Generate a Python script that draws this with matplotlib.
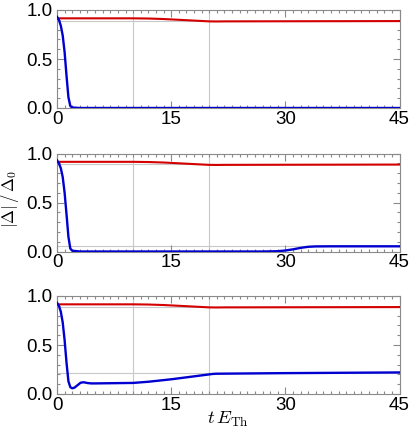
import matplotlib
matplotlib.use('Agg')
import matplotlib.pyplot as plt
from matplotlib.ticker import MultipleLocator

plt.rcParams['font.family'] = ['Liberation Sans', 'DejaVu Sans']
plt.rcParams['mathtext.fontset'] = 'cm'

# red curve (same in all three panels)
t_red = [0, 10, 12, 14, 16, 18, 20, 21, 22, 45]
red_vals = [0.915, 0.915, 0.913, 0.908, 0.900, 0.892, 0.884, 0.883, 0.884, 0.887]

# blue curves, one per panel
t_blue1 = [0, 0.25, 0.5, 0.75, 1.0, 1.25, 1.5, 1.75, 2.0, 3, 45]
blue1 = [0.93, 0.90, 0.84, 0.74, 0.57, 0.33, 0.11, 0.02, 0.005, 0.0, 0.0]

t_blue2 = [0, 0.25, 0.5, 0.75, 1.0, 1.25, 1.5, 1.75, 2.0, 3, 27, 29, 30, 31,
           32, 33, 34, 36, 45]
blue2 = [0.93, 0.90, 0.85, 0.76, 0.60, 0.38, 0.15, 0.03, 0.008, 0.0, 0.0,
         0.003, 0.010, 0.022, 0.037, 0.048, 0.052, 0.053, 0.053]

t_blue3 = [0, 0.25, 0.5, 0.75, 1.0, 1.25, 1.5, 1.75, 2.0, 2.3, 2.7, 3.1, 3.5,
           4.0, 4.5, 5, 7, 10, 12, 15, 18, 20, 20.5, 21, 30, 45]
blue3 = [0.93, 0.90, 0.84, 0.73, 0.55, 0.32, 0.13, 0.07, 0.058, 0.065, 0.09,
         0.115, 0.12, 0.112, 0.108, 0.108, 0.11, 0.113, 0.125, 0.15, 0.18,
         0.20, 0.205, 0.207, 0.213, 0.22]

# grid lines (vertical shared, horizontal per panel)
grid_x = [10, 20]
grid_y = [[0.89], [0.055, 0.89], [0.21, 0.89]]

blues = [(t_blue1, blue1), (t_blue2, blue2), (t_blue3, blue3)]
red_c = '#d40000'
blue_c = '#0000d0'
frame_c = '#8a8a8a'

fig = plt.figure(figsize=(4.11, 4.42), dpi=100)
left, width = 57 / 411, 342.5 / 411
tops = [10, 153.5, 296]
heights = 98

axes = []
for i in range(3):
    bottom = 1 - (tops[i] + heights) / 442
    ax = fig.add_axes([left, bottom, width, heights / 442])
    axes.append(ax)
    for gx in grid_x:
        ax.axvline(gx, color='#c8c8c8', lw=0.8, zorder=1)
    for gy in grid_y[i]:
        ax.axhline(gy, color='#c8c8c8', lw=0.8, zorder=1)
    ax.plot(t_red, red_vals, color=red_c, lw=1.5, zorder=3)
    tb, vb = blues[i]
    ax.plot(tb, vb, color=blue_c, lw=1.7, zorder=4)
    ax.set_xlim(0, 45)
    ax.set_ylim(0, 1)
    ax.xaxis.set_major_locator(MultipleLocator(15))
    ax.xaxis.set_minor_locator(MultipleLocator(1))
    ax.yaxis.set_minor_locator(MultipleLocator(0.1))
    ax.set_yticks([0, 0.5, 1.0])
    ax.set_yticklabels(['0.0', '0.5', '1.0'])
    ax.tick_params(which='both', direction='in', top=True, right=True,
                   color=frame_c, width=0.8, labelsize=13.5)
    ax.tick_params(which='major', length=5)
    ax.tick_params(which='minor', length=2.5)
    ax.tick_params(axis='x', pad=2)
    ax.tick_params(axis='y', pad=3)
    for s in ax.spines.values():
        s.set_color(frame_c)
        s.set_linewidth(0.8)

# y label placed in figure coordinates, left of the middle panel
fig.text(10 / 411, 1 - 199 / 442, r'$|\Delta|\,/\,\Delta_0$', fontsize=12,
         rotation=90, ha='center', va='center')
axes[2].set_xlabel(r'$t\,E_{\rm Th}$', fontsize=13.5, labelpad=-3)

fig.savefig('out.png', dpi=100)
